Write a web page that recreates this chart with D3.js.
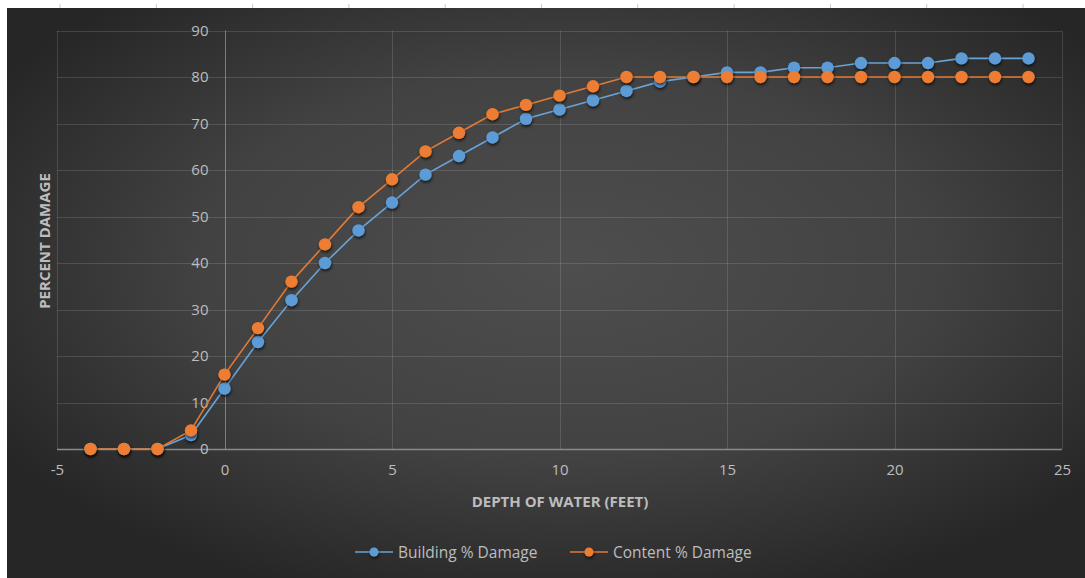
<!DOCTYPE html>
<html>
<head>
<meta charset="utf-8">
<script src="https://cdn.jsdelivr.net/npm/d3@7"></script>
<style>
  html, body { margin: 0; padding: 0; background: #ffffff; }
  svg { display: block; }
  text { font-family: "Open Sans", "Noto Sans", sans-serif; }
</style>
</head>
<body>
<script>
// ---- data ----
const depth = [-4, -3, -2, -1, 0, 1, 2, 3, 4, 5, 6, 7, 8, 9, 10, 11, 12, 13, 14, 15, 16, 17, 18, 19, 20, 21, 22, 23, 24];
const building = [0, 0, 0, 3, 13, 23, 32, 40, 47, 53, 59, 63, 67, 71, 73, 75, 77, 79, 80, 81, 81, 82, 82, 83, 83, 83, 84, 84, 84];
const content = [0, 0, 0, 4, 16, 26, 36, 44, 52, 58, 64, 68, 72, 74, 76, 78, 80, 80, 80, 80, 80, 80, 80, 80, 80, 80, 80, 80, 80];
const xTicks = [-5, 0, 5, 10, 15, 20, 25];
const yTicks = [0, 10, 20, 30, 40, 50, 60, 70, 80, 90];
const seriesNames = ["Building % Damage", "Content % Damage"];
const xTitle = "DEPTH OF WATER (FEET)";
const yTitle = "PERCENT DAMAGE";

const W = 1085, H = 578;
const colors = ["#5b9bd5", "#ed7d31"];
const lineColors = ["#6aa3d6", "#e07a35"];

const svg = d3.select("body").append("svg").attr("width", W).attr("height", H);
const defs = svg.append("defs");
const rg = defs.append("radialGradient").attr("id", "bg")
  .attr("cx", 0.52).attr("cy", 0.45).attr("r", 0.62);
rg.append("stop").attr("offset", 0).attr("stop-color", "#4e4e4e");
rg.append("stop").attr("offset", 0.55).attr("stop-color", "#424242");
rg.append("stop").attr("offset", 1).attr("stop-color", "#262626");
const f = defs.append("filter").attr("id", "sh").attr("x", -1).attr("y", -1).attr("width", 3).attr("height", 3);
f.append("feDropShadow").attr("dx", 0.5).attr("dy", 1.8).attr("stdDeviation", 1.4)
  .attr("flood-color", "#000").attr("flood-opacity", 0.75);

// white surround + ruler ticks
svg.append("rect").attr("width", W).attr("height", H).attr("fill", "#ffffff");
svg.append("rect").attr("x", 7).attr("y", 8).attr("width", W - 7).attr("height", H - 8).attr("fill", "url(#bg)");
const rulerX = d3.scaleLinear().domain([0, 10]).range([60, 1023]);
svg.append("g").selectAll("line").data(d3.range(0, 11)).join("line")
  .attr("x1", d => rulerX(d)).attr("x2", d => rulerX(d))
  .attr("y1", 4).attr("y2", 8).attr("stroke", "#c8c8c8").attr("stroke-width", 1);

// scales
const x = d3.scaleLinear().domain([-5, 25]).range([57, 1062]);
const y = d3.scaleLinear().domain([0, 90]).range([449, 30.5]);

// gridlines
const grid = svg.append("g");
grid.selectAll(".hg").data(yTicks).join("line")
  .attr("x1", x(-5)).attr("x2", x(25))
  .attr("y1", d => Math.round(y(d)) + 0.5).attr("y2", d => Math.round(y(d)) + 0.5)
  .attr("stroke", d => d === 0 ? "#8a8a8a" : "rgba(255,255,255,0.13)").attr("stroke-width", d => d === 0 ? 1.3 : 1);
grid.selectAll(".vg").data(xTicks).join("line")
  .attr("x1", d => Math.round(x(d)) + 0.5).attr("x2", d => Math.round(x(d)) + 0.5)
  .attr("y1", y(90)).attr("y2", y(0))
  .attr("stroke", d => d === 0 ? "rgba(255,255,255,0.35)" : "rgba(255,255,255,0.13)").attr("stroke-width", 1);

// axes (labels via d3 axes)
const fmt = d => String(d);
const yAxis = svg.append("g").attr("transform", `translate(${x(0)},0)`)
  .call(d3.axisLeft(y).tickValues(yTicks).tickSize(0).tickPadding(16).tickFormat(fmt));
yAxis.select(".domain").remove();
yAxis.selectAll("text").attr("fill", "#bdbdbd").style("font-size", "15px").style("font-family", "'Open Sans', sans-serif");

const xAxis = svg.append("g").attr("transform", `translate(0,${y(0)})`)
  .call(d3.axisBottom(x).tickValues(xTicks).tickSize(0).tickPadding(15).tickFormat(fmt));
xAxis.select(".domain").remove();
xAxis.selectAll("text").attr("fill", "#bdbdbd").style("font-size", "15px").style("font-family", "'Open Sans', sans-serif");

// axis titles
svg.append("text").attr("x", 560).attr("y", 507).attr("text-anchor", "middle")
  .attr("fill", "#bdbdbd").style("font-size", "15px").style("font-weight", "bold").text(xTitle);
svg.append("text").attr("transform", "translate(50,241) rotate(-90)").attr("text-anchor", "middle")
  .attr("fill", "#bdbdbd").style("font-size", "15px").style("font-weight", "bold").text(yTitle);

// series
const series = [building, content];
const line = d3.line().x((d, i) => x(depth[i])).y(d => y(d));
series.forEach((vals, si) => {
  const g = svg.append("g");
  g.append("path").datum(vals).attr("d", line).attr("fill", "none")
    .attr("stroke", lineColors[si]).attr("stroke-width", 1.6);
  g.selectAll("circle").data(vals).join("circle")
    .attr("cx", (d, i) => x(depth[i])).attr("cy", d => y(d)).attr("r", 6.2)
    .attr("fill", colors[si]).attr("filter", "url(#sh)");
});

// legend
const legend = svg.append("g");
const legendX = [355, 570];
seriesNames.forEach((name, si) => {
  const lg = legend.append("g").attr("transform", `translate(${legendX[si]},552)`);
  lg.append("line").attr("x1", 0).attr("x2", 38).attr("y1", 0).attr("y2", 0)
    .attr("stroke", lineColors[si]).attr("stroke-width", 1.6);
  lg.append("circle").attr("cx", 19).attr("cy", 0).attr("r", 4.5).attr("fill", colors[si]).attr("filter", "url(#sh)");
  lg.append("text").attr("x", 43).attr("y", 5.5).attr("fill", "#bdbdbd")
    .style("font-size", "15.5px").text(name);
});
</script>
</body>
</html>
